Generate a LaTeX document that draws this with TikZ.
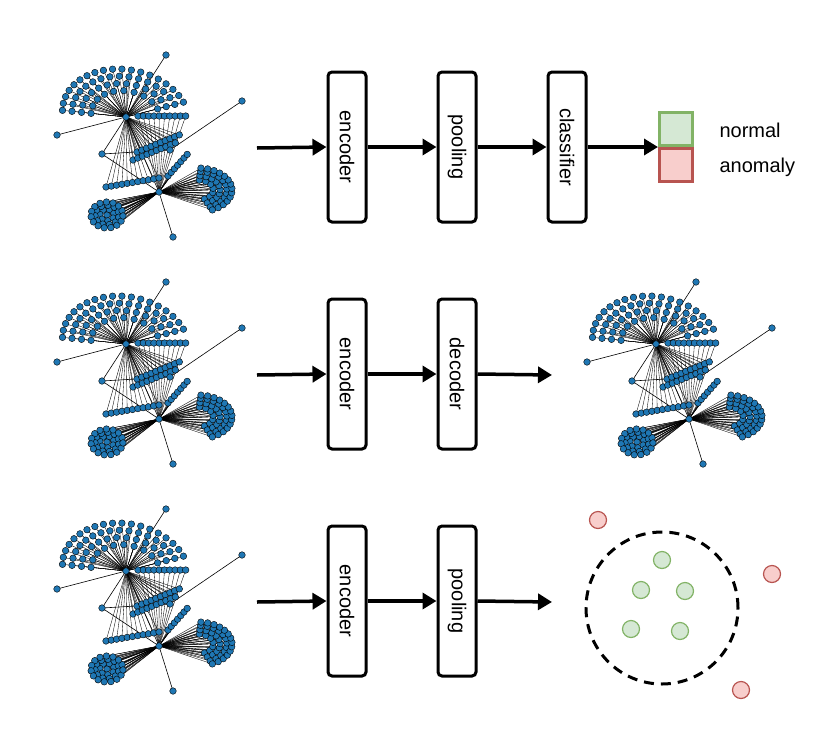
\documentclass[tikz,border=0pt]{standalone}
\usepackage{fontspec}
\setmainfont{Liberation Sans}
\usetikzlibrary{arrows.meta}
\newif\ifgedge
\definecolor{gblue}{HTML}{1F77B4}
\definecolor{ngreenf}{HTML}{D5E8D4}\definecolor{ngreen}{HTML}{82B366}
\definecolor{nredf}{HTML}{F8CECC}\definecolor{nred}{HTML}{B85450}
\tikzset{
 gedge/.style={line width=0.35pt,black},
 gnode/.style={fill=gblue,draw=black,line width=0.4pt},
 blk/.style={draw,rounded corners=4pt,line width=3pt,minimum width=150pt,minimum height=38pt,rotate=-90,font=\fontsize{20}{20}\selectfont,inner sep=0pt},
 arr/.style={line width=3.5pt,-{Triangle[length=14pt,width=16pt]}},
 okc/.style={circle,fill=ngreenf,draw=ngreen,line width=1.2pt,minimum size=17pt,inner sep=0pt},
 badc/.style={circle,fill=nredf,draw=nred,line width=1.2pt,minimum size=17pt,inner sep=0pt},
}
\newcommand\gpt[3]{\ifgedge\draw[gedge] (#1) -- (#2,#3);\else\filldraw[gnode] (#2,#3) circle (3.3pt);\fi}
\newcommand\graphbody{%
 \foreach \r/\n in {0.55/9,0.7/12,0.85/15,1.0/18}{%
  \foreach \k in {0,...,\n}{%
   \pgfmathsetmacro\aa{18+154*\k/\n}%
   \pgfmathsetmacro\xx{126+63*\r*cos(\aa)-8*\r*sin(\aa)}%
   \pgfmathsetmacro\yy{117-48*\r*sin(\aa)}%
   \gpt{A}{\xx}{\yy}}}%
 \foreach \i in {0,...,9}{\pgfmathsetmacro\xx{138+5.3*\i}\gpt{B}{\xx}{116}}%
 \foreach \i in {0,...,9}{\pgfmathsetmacro\xx{133+4.7*\i}\pgfmathsetmacro\yy{160-1.9*\i}\gpt{A}{\xx}{\yy}%
   \pgfmathsetmacro\xx{137+4.7*\i}\pgfmathsetmacro\yy{152-1.9*\i}\gpt{A}{\xx}{\yy}}%
 \foreach \i in {0,...,10}{\pgfmathsetmacro\xx{106+5.3*\i}\pgfmathsetmacro\yy{187-0.9*\i}\gpt{A}{\xx}{\yy}}%
 \foreach \i in {0,...,6}{\pgfmathsetmacro\xx{168+3.2*\i}\pgfmathsetmacro\yy{176-3.6*\i}\gpt{B}{\xx}{\yy}}%
 \foreach \r/\n in {0.45/6,0.65/9,0.85/11,1.0/13}{%
  \foreach \k in {0,...,\n}{%
   \pgfmathsetmacro\aa{-65+150*\k/\n}%
   \pgfmathsetmacro\xx{198+34*\r*cos(\aa)}%
   \pgfmathsetmacro\yy{190-22*\r*sin(\aa)}%
   \gpt{B}{\xx}{\yy}}}%
 \foreach \r/\n in {0/0,0.45/6,0.75/10,1.0/14}{%
  \foreach \k in {0,...,\n}{%
   \pgfmathsetmacro\aa{360*\k/(\n+1)+20}%
   \pgfmathsetmacro\xx{107+16*\r*cos(\aa)}%
   \pgfmathsetmacro\yy{215-13*\r*sin(\aa)}%
   \gpt{B}{\xx}{\yy}}}%
}
\newcommand\drawgraph{%
 \coordinate (A) at (126,117); \coordinate (B) at (159,192); \coordinate (C) at (102,154);
 \coordinate (L1) at (166,55); \coordinate (L2) at (242,101); \coordinate (L3) at (57,135); \coordinate (L4) at (173,237);
 \gedgetrue\graphbody
 \draw[line width=0.6pt] (A)--(L1) (A)--(L3) (B)--(L4) (L2)--(170,150) (A)--(B) (A)--(C) (C)--(B) (C)--(170,150);
 \gedgefalse\graphbody
 \foreach \p in {A,B,C,L1,L2,L3,L4}{\filldraw[gnode] (\p) circle (3.3pt);}
 \filldraw[gnode] (170,150) circle (3.3pt);
}
\begin{document}
\begin{tikzpicture}[x=1pt,y=-1pt]
\useasboundingbox (0,0) rectangle (830,750);
\begin{scope}\drawgraph\end{scope}
\begin{scope}[shift={(0,227)}]\drawgraph\end{scope}
\begin{scope}[shift={(530,227)}]\drawgraph\end{scope}
\begin{scope}[shift={(0,454)}]\drawgraph\end{scope}
% row 1
\node[blk] (e1) at (347,147) {encoder};
\node[blk] (p1) at (457,147) {pooling};
\node[blk] (c1) at (567,147) {classifier};
\coordinate (g1) at (257,148);
\node[draw=ngreen,fill=ngreenf,line width=3pt,minimum size=33pt,inner sep=0pt] (sq1) at (676,129) {};
\node[draw=nred,fill=nredf,line width=3pt,minimum size=33pt,inner sep=0pt] (sq2) at (676,165) {};
\node[anchor=west,font=\fontsize{20}{20}\selectfont] (tn) at (716,130) {normal};
\node[anchor=west,font=\fontsize{20}{20}\selectfont] (ta) at (716,167) {anomaly};
\draw[arr] (g1) -- (e1.south);
\draw[arr] (e1.north) -- (p1.south);
\draw[arr] (p1.north) -- (c1.south);
\draw[arr] (c1.north) -- (sq1.west|-c1.north);
% row 2
\node[blk] (e2) at (347,374) {encoder};
\node[blk] (d2) at (457,374) {decoder};
\coordinate (g2) at (257,375); \coordinate (o2) at (552,375);
\draw[arr] (g2) -- (e2.south);
\draw[arr] (e2.north) -- (d2.south);
\draw[arr] (d2.north) -- (o2);
% row 3
\node[blk] (e3) at (347,601) {encoder};
\node[blk] (p3) at (457,601) {pooling};
\coordinate (g3) at (257,602); \coordinate (o3) at (552,602);
\draw[arr] (g3) -- (e3.south);
\draw[arr] (e3.north) -- (p3.south);
\draw[arr] (p3.north) -- (o3);
\node[circle,draw,dashed,line width=3pt,dash pattern=on 10pt off 7pt,minimum size=152pt] (ring) at (662,608) {};
\node[okc] (n1) at (662,560) {}; \node[okc] (n2) at (641,590) {}; \node[okc] (n3) at (685,591) {};
\node[okc] (n4) at (631,629) {}; \node[okc] (n5) at (680,631) {};
\node[badc] (a1) at (598,520) {}; \node[badc] (a2) at (772,574) {}; \node[badc] (a3) at (741,690) {};
\end{tikzpicture}
\end{document}
